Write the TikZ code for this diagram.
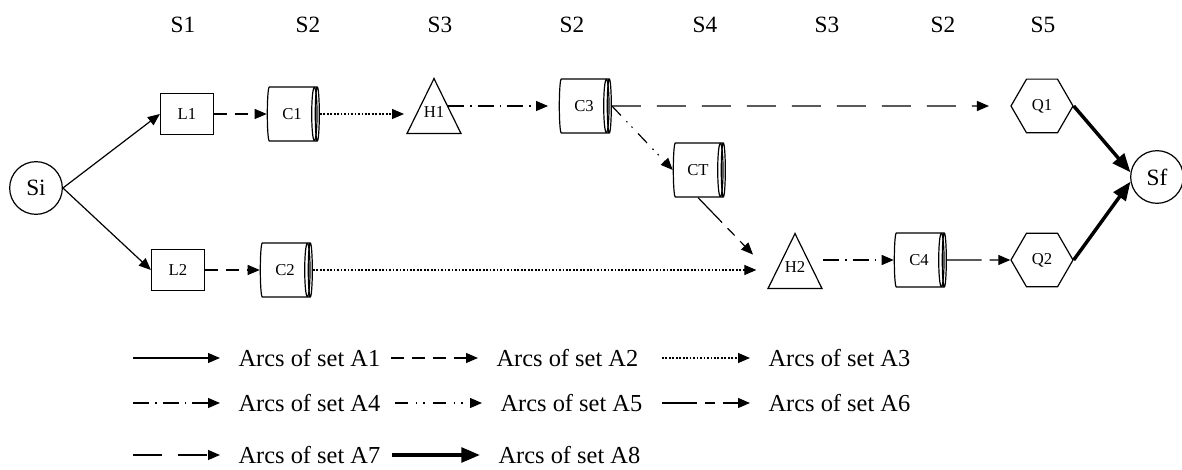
\documentclass[tikz,border=0pt]{standalone}
\usepackage{fontspec}
\setmainfont{Liberation Serif}
\usepackage{tikz}
\usetikzlibrary{arrows.meta,shapes.geometric,positioning,calc}
\newcommand\trilbl[1]{\raisebox{6.5pt}[\height][\depth]{#1}}

\begin{document}
\begin{tikzpicture}[x=0.75pt, y=-0.75pt, line width=0.9pt,
  arr/.style={-{Triangle[length=9pt,width=7.5pt]}},
  a1/.style={arr},
  a2/.style={arr, dash pattern=on 9.75pt off 6pt},
  a3/.style={arr, dash pattern=on 1.3pt off 1.3pt},
  a4/.style={arr, dash pattern=on 12pt off 4.5pt on 1.2pt off 4.5pt},
  a5/.style={arr, dash pattern=on 9.75pt off 6pt on 1.1pt off 4.5pt on 1.1pt off 6pt},
  a6/.style={arr, dash pattern=on 26pt off 6pt on 7.5pt off 6pt},
  a7/.style={arr, dash pattern=on 21.75pt off 12pt},
  a8/.style={-{Triangle[length=14pt,width=11pt]}, line width=2.6pt},
  lbl/.style={font=\fontsize{12.5}{15}\selectfont},
  circ/.style={circle, draw, minimum size=39.5pt, inner sep=0pt, font=\fontsize{17.5}{20}\selectfont},
  box/.style={rectangle, draw, lbl, minimum width=39.75pt, minimum height=30.75pt},
  cyl/.style={cylinder, draw, lbl, aspect=0.36, minimum width=40.5pt, minimum height=39pt, inner sep=0pt,
    path picture={\draw ([xshift=-3.7pt]path picture bounding box.east) ellipse [x radius=2pt, y radius=20pt];}},
  tri/.style={isosceles triangle, isosceles triangle stretches, shape border rotate=90, draw, lbl,
    minimum width=40.5pt, minimum height=41.25pt, inner sep=0pt, anchor=apex},
  hexa/.style={regular polygon, regular polygon sides=6, draw, lbl, minimum size=46.5pt, inner sep=0pt},
  hdr/.style={font=\fontsize{17.5}{21}\selectfont},
  lgd/.style={inner sep=0pt, font=\fontsize{18.3}{22}\selectfont}]
\useasboundingbox (0,0) rectangle (1182,470);

% stage labels
\foreach \x/\s [count=\i] in {183/S1,308/S2,440/S3,572/S2,705/S4,827/S3,943/S2,1043/S5}
  \node[hdr] (s\i) at (\x,25) {\s};

% nodes
\node[circ] (Si) at (36,188) {Si};
\node[box] (L1) at (187,114) {L1};
\node[box] (L2) at (178,270) {L2};
\node[cyl] (C1) at (292,114) {C1};
\node[cyl] (C2) at (285,270) {C2};
\node[tri] (H1) at (434,77) {\trilbl{H1}};
\node[cyl] (C3) at (584,106) {C3};
\node[cyl] (CT) at (698,170) {CT};
\node[tri] (H2) at (795,232) {\trilbl{H2}};
\node[cyl] (C4) at (919,260) {C4};
\node[hexa] (Q1) at (1042,106) {Q1};
\node[hexa] (Q2) at (1042,260) {Q2};
\node[circ] (Sf) at (1157,177) {Sf};

% arcs
\draw[a1] (Si.east) -- (L1.west);
\draw[a1] (Si.east) -- (L2.west);
\draw[a2] (L1.east) -- (C1.west);
\draw[a2] (L2.east) -- (C2.west);
\draw[a3, shorten >=1.5pt] (C1.east) -- (C1.east -| H1.left corner);
\draw[a3, shorten >=8pt] (C2.east) -- (C2.east -| H2.left corner);
\draw[a4, shorten >=8pt] (C3.west -| H1.right side) -- (C3.west);
\draw[a5] (C3.east) -- (CT.west);
\draw[a7, shorten >=16pt] (C3.east) -- (Q1.west);
\draw[a6] (CT.south) -- ($(H2.left side)+(-28,-6)$);
\draw[a4] (C4.west -| H2.right corner) -- (C4.west);
\draw[a6] (C4.east) -- (Q2.west);
\draw[a8] (Q1.east) -- (Sf.170);
\draw[a8] (Q2.east) -- (Sf.190);

% legend
\foreach \n/\st/\xa/\xb/\y in {1/a1/133/220/358, 2/a2/391/478/358, 3/a3/662/750/358,
    4/a4/133/220/403, 5/a5/395/482/403, 6/a6/662/750/403, 7/a7/133/220/455, 8/a8/392/480/455} {
  \coordinate (ls\n) at (\xa,\y);
  \coordinate (le\n) at (\xb,\y);
  \draw[\st] (ls\n) -- (le\n);
  \node[lgd, right=13.5pt of le\n] (lt\n) {Arcs of set A\n};
}
\end{tikzpicture}
\end{document}
